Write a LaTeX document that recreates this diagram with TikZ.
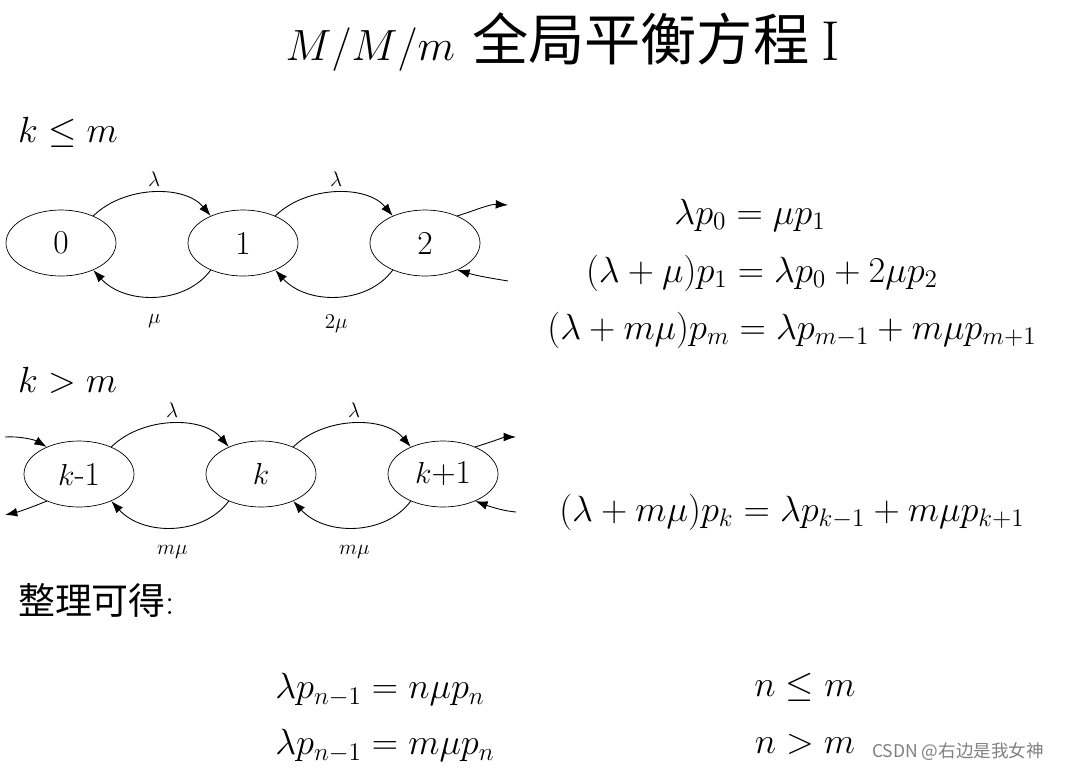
\documentclass[tikz,border=0pt]{standalone}
\usepackage{amsmath}
\usepackage{fontspec}
\newfontfamily\cjk{Noto Sans CJK SC}
\usetikzlibrary{arrows.meta,shapes.geometric}
\begin{document}
\begin{tikzpicture}[x=0.02cm,y=-0.02cm,
  st/.style={draw,ellipse,minimum width=110*0.02cm,minimum height=66*0.02cm,inner sep=0pt,font=\fontsize{19}{22}\selectfont},
  arr/.style={-{Latex[length=7pt,width=5pt]},line width=0.5pt},
  lab/.style={font=\fontsize{12}{14}\selectfont},
  eq/.style={font=\fontsize{21}{25}\selectfont}]
\path[use as bounding box] (0,0) rectangle (1066,775);
\node (title) at (563,42) {\fontsize{32}{38}\selectfont $M/M/m$ \cjk 全局平衡方程 \rmfamily I};
\node[eq,anchor=west] (c1) at (12,132) {$k\le m$};
\node[st] (n0) at (61,243) {0};
\node[st] (n1) at (243,243) {1};
\node[st] (n2) at (425,243) {2};
\draw[arr] (n0.40) .. controls (125,185) and (185,185) .. (n1.140) node[pos=0.5,above,lab]{$\lambda$};
\draw[arr] (n1.40) .. controls (307,185) and (367,185) .. (n2.140) node[pos=0.5,above,lab]{$\lambda$};
\draw[arr] (n1.220) .. controls (185,305) and (125,305) .. (n0.320) node[pos=0.5,below=7pt,lab]{$\mu$};
\draw[arr] (n2.220) .. controls (367,305) and (307,305) .. (n1.320) node[pos=0.5,below=7pt,lab]{$2\mu$};
\coordinate (o2) at (508,205);
\coordinate (i2) at (508,281);
\draw[arr] (n2.40) .. controls (476,210) and (490,204) .. (o2);
\draw[arr] (i2) .. controls (490,278) and (478,276) .. (n2.320);
\node[eq,anchor=west] (c2) at (12,380) {$k>m$};
\node[st] (m0) at (79,474) {$k$-1};
\node[st] (m1) at (261,474) {$k$};
\node[st] (m2) at (443,474) {$k$+1};
\draw[arr] (m0.40) .. controls (143,416) and (203,416) .. (m1.140) node[pos=0.5,above,lab]{$\lambda$};
\draw[arr] (m1.40) .. controls (325,416) and (385,416) .. (m2.140) node[pos=0.5,above,lab]{$\lambda$};
\draw[arr] (m1.220) .. controls (203,536) and (143,536) .. (m0.320) node[pos=0.5,below=7pt,lab]{$m\mu$};
\draw[arr] (m2.220) .. controls (385,536) and (325,536) .. (m1.320) node[pos=0.5,below=7pt,lab]{$m\mu$};
\coordinate (li) at (5,437);
\coordinate (lo) at (5,515);
\coordinate (ro) at (516,437);
\coordinate (ri) at (516,512);
\draw[arr] (li) .. controls (20,436) and (35,440) .. (m0.140);
\draw[arr] (m0.220) .. controls (30,508) and (18,512) .. (lo);
\draw[arr] (m2.40) .. controls (494,441) and (505,437) .. (ro);
\draw[arr] (ri) .. controls (505,511) and (494,508) .. (m2.320);
\node[eq] (e1) at (750,215) {$\lambda p_0=\mu p_1$};
\node[eq] (e2) at (762,273) {$(\lambda+\mu)p_1=\lambda p_0+2\mu p_2$};
\node[eq] (e3) at (792,330) {$(\lambda+m\mu)p_m=\lambda p_{m-1}+m\mu p_{m+1}$};
\node[eq] (e4) at (792,512) {$(\lambda+m\mu)p_k=\lambda p_{k-1}+m\mu p_{k+1}$};
\node[eq,anchor=west] (zl) at (12,600) {\cjk 整理可得\rmfamily :};
\node[eq] (b1) at (380,690) {$\lambda p_{n-1}=n\mu p_n$};
\node[eq] (b2) at (385,746) {$\lambda p_{n-1}=m\mu p_n$};
\node[eq] (d1) at (805,687) {$n\le m$};
\node[eq] (d2) at (805,744) {$n>m$};
\node[text=gray,font=\fontsize{10}{12}\selectfont\cjk] (wm) at (958,752) {CSDN @右边是我女神};
\end{tikzpicture}
\end{document}
